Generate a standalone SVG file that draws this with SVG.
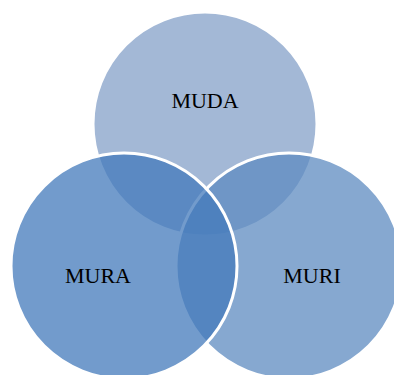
<svg xmlns="http://www.w3.org/2000/svg" width="394" height="375" viewBox="0 0 394 375">
<style>
.c{stroke:#ffffff;stroke-width:3;fill-opacity:0.75}
.t{font-family:"Liberation Serif","Times New Roman",serif;font-size:22px;fill:#000000;text-anchor:middle}
</style>
<rect width="394" height="375" fill="#ffffff"/>
<g id="muda">
<circle class="c" cx="205" cy="124" r="112" fill="rgb(132,160,200)"/>
<text class="t" x="205" y="108">MUDA</text>
</g>
<g id="muri">
<circle class="c" cx="289" cy="266" r="113" fill="rgb(94,139,192)"/>
<text class="t" x="312" y="283">MURI</text>
</g>
<g id="mura">
<circle class="c" cx="124" cy="266" r="113" fill="rgb(67,122,187)"/>
<text class="t" x="98" y="283">MURA</text>
</g>
<g id="connectors"></g>
</svg>
